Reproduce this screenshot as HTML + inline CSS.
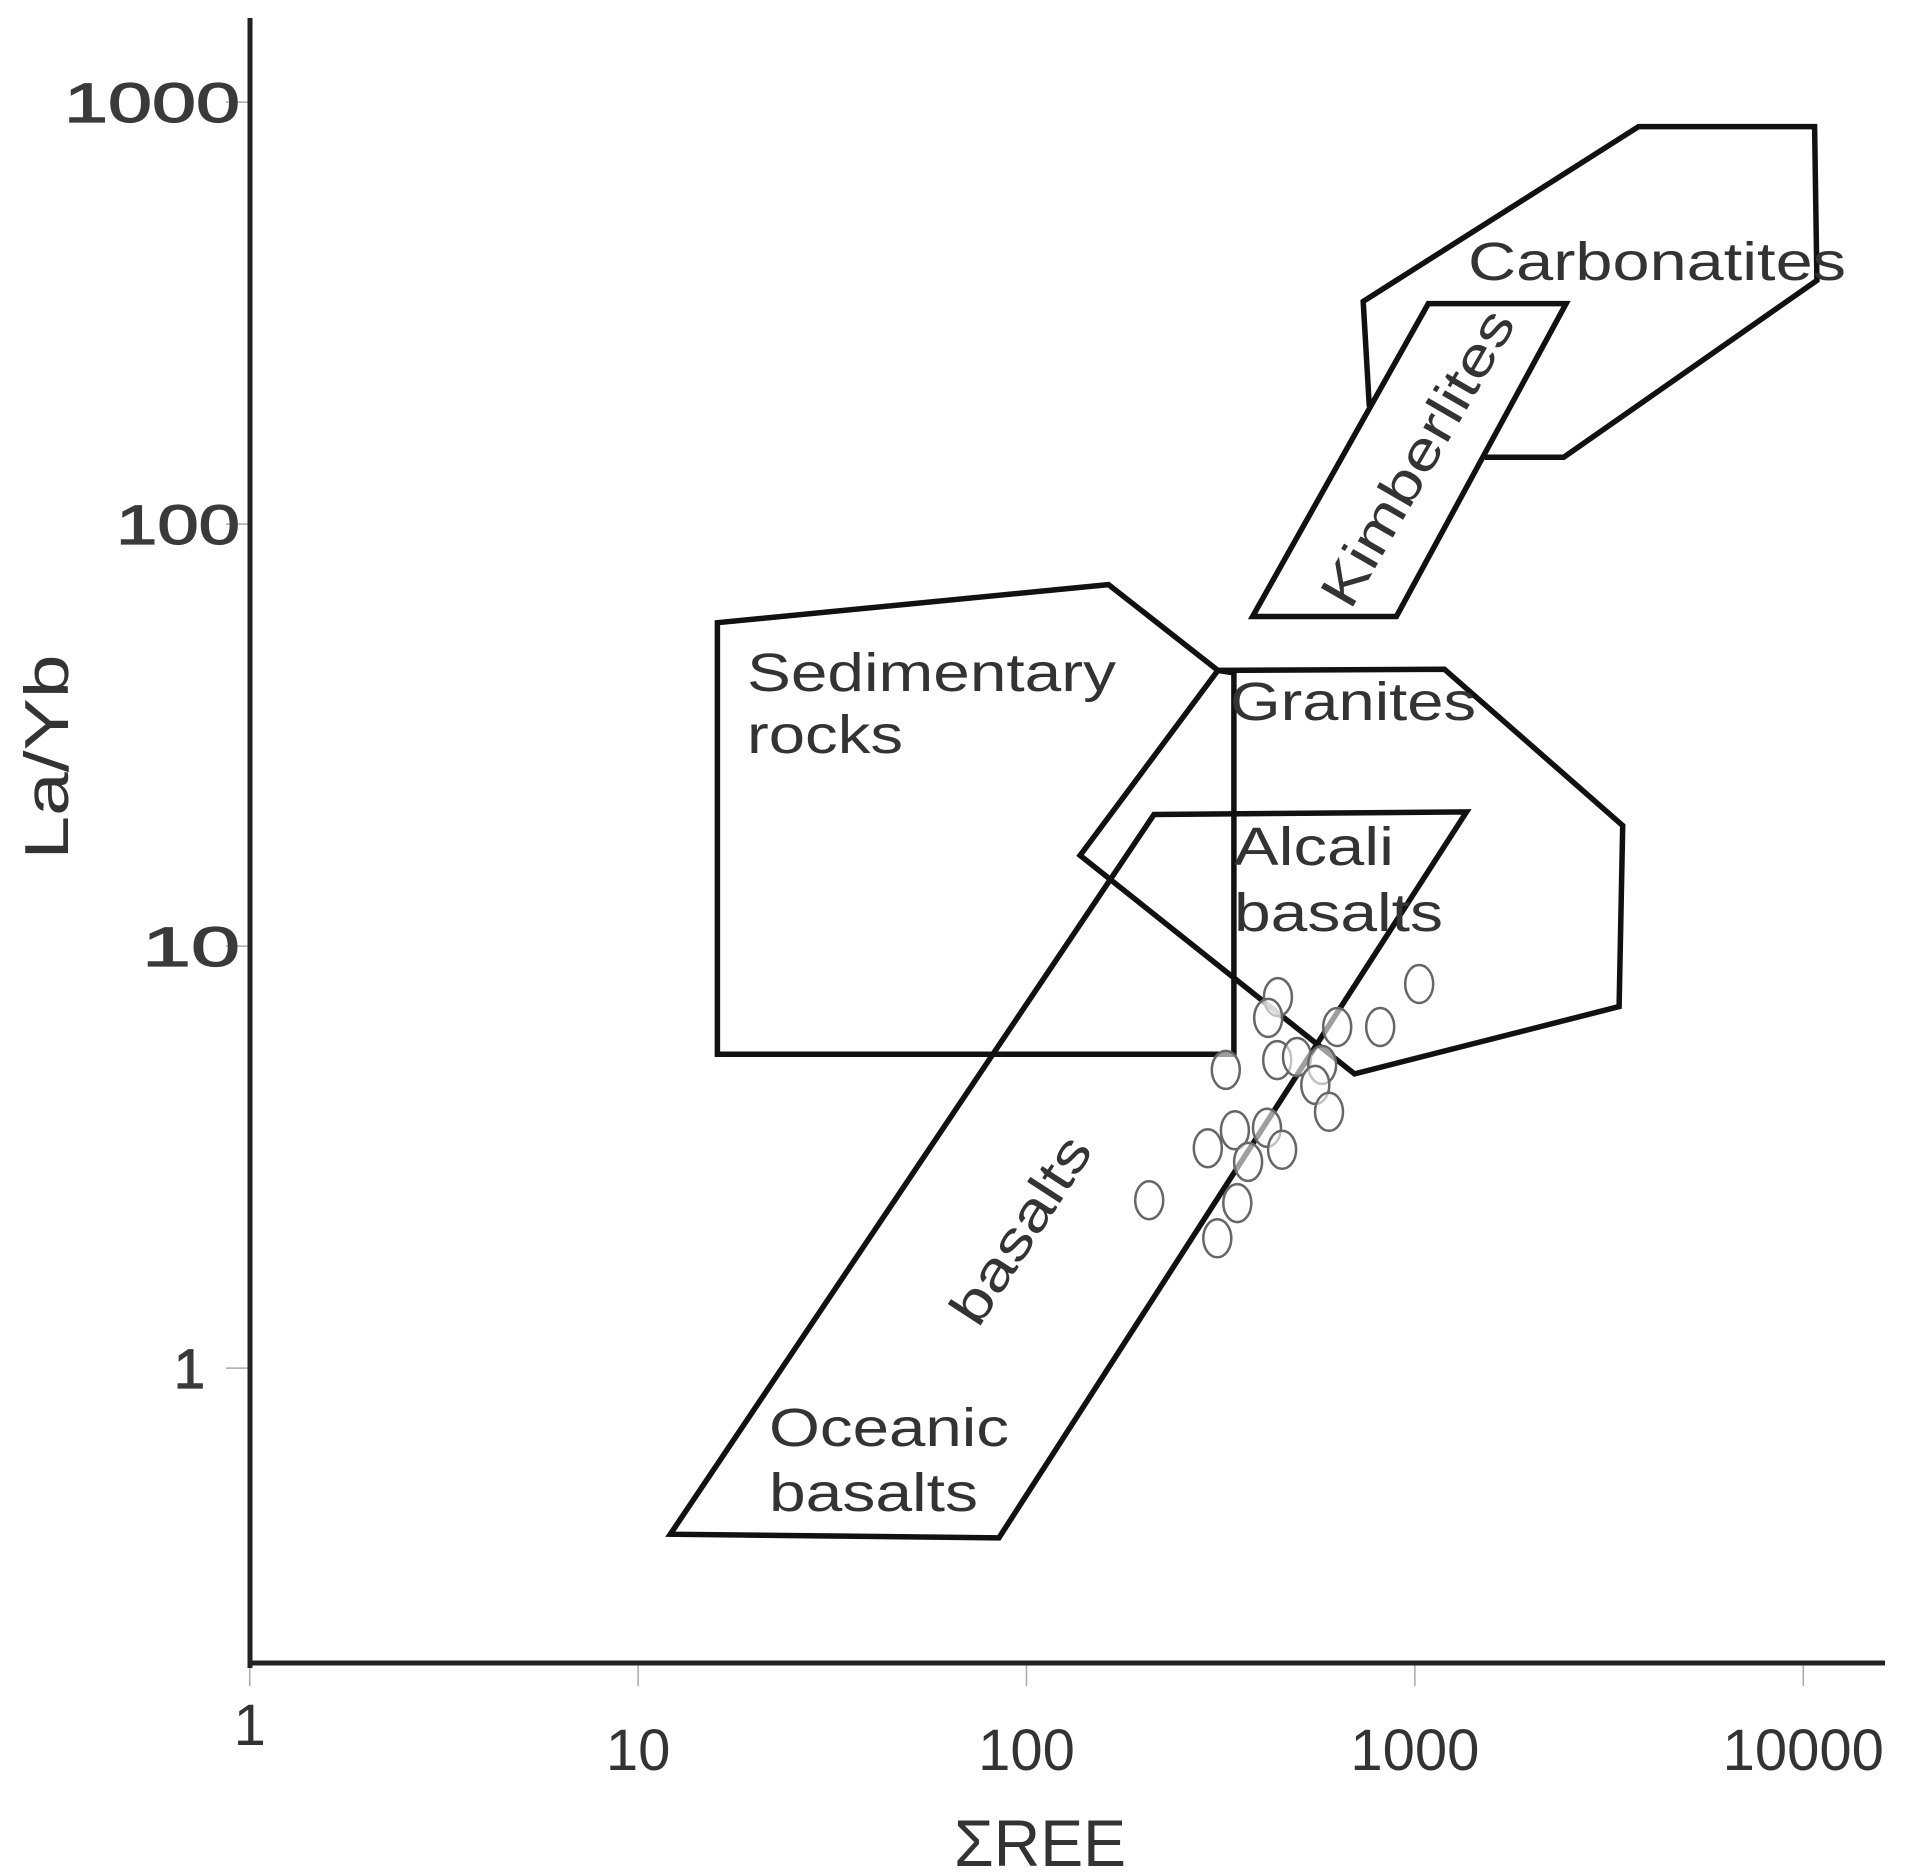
<!DOCTYPE html>
<html><head><meta charset="utf-8"><style>
html,body{margin:0;padding:0;background:#fff;}
svg{display:block;}
text{font-family:"Liberation Sans",sans-serif;fill:#333;}
</style></head><body>
<svg id="chart" width="1923" height="1874" viewBox="0 0 1923 1874" xmlns="http://www.w3.org/2000/svg">
<g id="fields"></g>
<g id="points"></g>
<g id="axes"></g>
<g id="labels"></g>
</svg>
<script>
const xTicks = [1, 10, 100, 1000, 10000];
const xTickLabels = ["1", "10", "100", "1000", "10000"];
const yTicks = [1, 10, 100, 1000];
const yTickLabels = ["1", "10", "100", "1000"];
const sampleREE = [444, 419, 631, 814, 1026, 326, 442, 497, 577, 554, 601, 416, 344, 293, 372, 455, 207, 349, 310];
const sampleLaYb = [7.57, 6.76, 6.43, 6.43, 8.13, 5.09, 5.37, 5.46, 5.23, 4.69, 4.05, 3.71, 3.66, 3.32, 3.08, 3.29, 2.50, 2.46, 2.03];
const carbonatitesField = [[1514,144],[2416,144],[10840,378],[10690,875],[3767,875],[736,337],[763,190]];
const kimberlitesField = [[1083,333],[2450,333],[896,60.4],[382,60.4]];
const sedimentaryField = [[16.0,58.4],[162.6,71.9],[311,45.0],[342,44.4],[342,5.54],[16.0,5.54]];
const granitesField = [[311,45.0],[137.4,16.4],[699,4.98],[3355,7.19],[3428,19.3],[1191,45.3]];
const basaltsField = [[213,20.5],[1358,20.8],[84.9,0.396],[12.1,0.404]];

const NS = "http://www.w3.org/2000/svg";
const X0 = 249.7, XD = 388.4, Y0 = 1368.1, YD = 422.0;
function sx(v){ return X0 + XD * Math.log10(v); }
function sy(v){ return Y0 - YD * Math.log10(v); }
function mk(tag, attrs, parent){
  const e = document.createElementNS(NS, tag);
  for (const k in attrs) e.setAttribute(k, attrs[k]);
  parent.appendChild(e); return e;
}
const fields = document.getElementById('fields');
function poly(arr, closed, name){
  const d = arr.map(p => sx(p[0]).toFixed(1) + ',' + sy(p[1]).toFixed(1)).join(' ');
  const e = mk(closed ? 'polygon' : 'polyline', {points: d, fill: 'none', stroke: '#111', 'stroke-width': 5.5, 'stroke-linejoin': 'miter'}, fields);
  
  
}
poly(sedimentaryField, true, 'sedimentary-rocks-field');
poly(granitesField, true, 'granites-field');
poly(basaltsField, true, 'basalts-field');
poly(carbonatitesField, false, 'carbonatites-field');
poly(kimberlitesField, true, 'kimberlites-field');

const pts = document.getElementById('points');
for (let i = 0; i < sampleREE.length; i++){
  const c = mk('ellipse', {cx: sx(sampleREE[i]).toFixed(1), cy: sy(sampleLaYb[i]).toFixed(1), rx: 14, ry: 19, fill: '#fff', 'fill-opacity': 0.6, stroke: '#666', 'stroke-width': 2.5}, pts);
  
  
}

const ax = document.getElementById('axes');
const yLabelW = [0, 98, 124, 176];
for (let i = 0; i < yTicks.length; i++){
  const y = sy(yTicks[i]);
  const t = mk('line', {x1: 226, x2: 249, y1: y, y2: y, stroke: '#aaa', 'stroke-width': 1.5}, ax);
  
  
  const a = {x: i === 0 ? 205 : 240, y: y + 20, 'text-anchor': 'end', 'font-size': 56, style: 'fill:#3a3a3a;stroke:#3a3a3a;stroke-width:1.2'};
  if (yLabelW[i]) { a.textLength = yLabelW[i]; a.lengthAdjust = 'spacingAndGlyphs'; }
  const l = mk('text', a, ax);
  l.textContent = yTickLabels[i];
  
  
}
for (let i = 0; i < xTicks.length; i++){
  const x = sx(xTicks[i]);
  const t = mk('line', {x1: x, x2: x, y1: 1663, y2: 1686, stroke: '#aaa', 'stroke-width': 1.5}, ax);
  
  
  const l = mk('text', {x: x, y: i === 0 ? 1745 : 1770, 'text-anchor': 'middle', 'font-size': 58}, ax);
  l.textContent = xTickLabels[i];
  
  
}
const ya = mk('line', {x1: 250, x2: 250, y1: 18, y2: 1668, stroke: '#222', 'stroke-width': 5}, ax);


const xa = mk('line', {x1: 248, x2: 1885, y1: 1663, y2: 1663, stroke: '#222', 'stroke-width': 5}, ax);



const lb = document.getElementById('labels');
function txt(s, x, y, size, w, rot, name){
  const a = {x: x, y: y, 'font-size': size};
  if (w) { a.textLength = w; a.lengthAdjust = 'spacingAndGlyphs'; }
  if (rot) a.transform = 'rotate(' + rot + ' ' + x + ' ' + y + ')';
  const e = mk('text', a, lb);
  e.textContent = s;
  
  
  return e;
}
txt('Carbonatites', 1468, 280, 54, 378, 0, 'carbonatites-label');
txt('Sedimentary', 747, 691, 54, 369, 0, 'sedimentary-label');
txt('rocks', 747, 753, 54, 156, 0, 'rocks-label');
txt('Granites', 1230, 720, 54, 246, 0, 'granites-label');
txt('Alcali', 1234, 865, 54, 160, 0, 'alcali-label');
txt('basalts', 1234, 931, 54, 209, 0, 'alcali-basalts-label');
txt('Oceanic', 769, 1446, 54, 240, 0, 'oceanic-label');
txt('basalts', 769, 1511, 54, 209, 0, 'oceanic-basalts-label');
const b = txt('basalts', 1021, 1230, 54, 213, -57, 'basalts-rotated-label');
b.setAttribute('text-anchor', 'middle');
b.setAttribute('dy', 18);
const k = txt('Kimberlites', 1418, 458, 54, 333, -60, 'kimberlites-label');
k.setAttribute('text-anchor', 'middle');
k.setAttribute('dy', 18);
const xt = txt('\u03A3REE', 1040, 1866, 66, 172, 0, 'x-axis-title');
xt.setAttribute('text-anchor', 'middle');
const yt = txt('La/Yb', 68, 757, 62, 205, -90, 'y-axis-title');
yt.setAttribute('text-anchor', 'middle');
</script>
</body></html>
